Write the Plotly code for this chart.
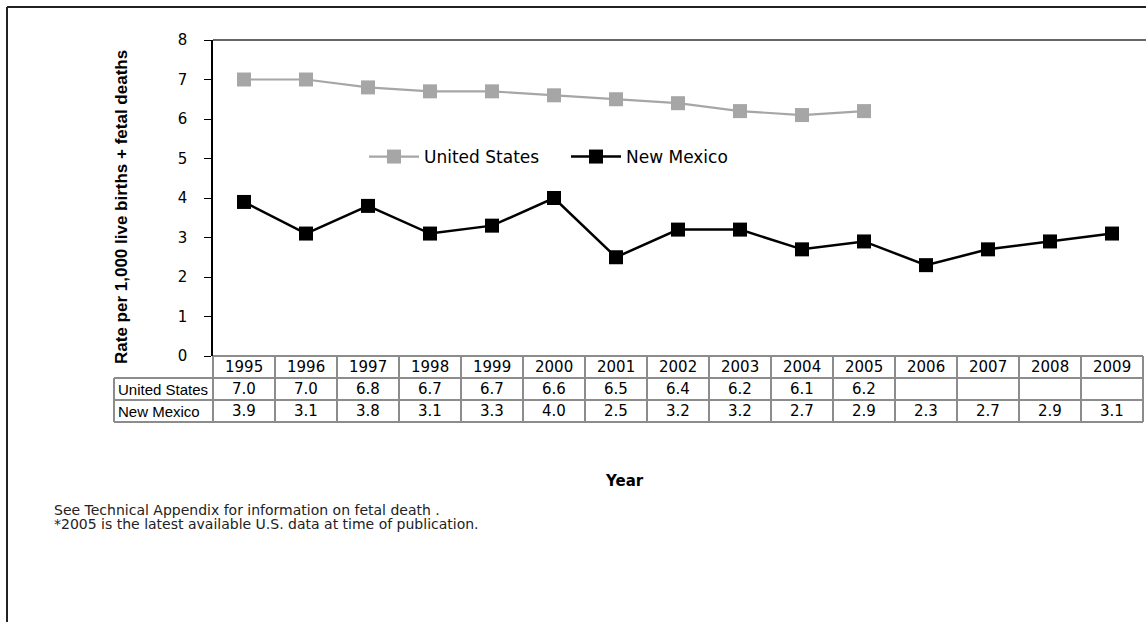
import plotly.graph_objects as go

years = [1995, 1996, 1997, 1998, 1999, 2000, 2001, 2002, 2003, 2004, 2005, 2006, 2007, 2008, 2009]
us_years = [1995, 1996, 1997, 1998, 1999, 2000, 2001, 2002, 2003, 2004, 2005]
us_values = [7.0, 7.0, 6.8, 6.7, 6.7, 6.6, 6.5, 6.4, 6.2, 6.1, 6.2]
nm_values = [3.9, 3.1, 3.8, 3.1, 3.3, 4.0, 2.5, 3.2, 3.2, 2.7, 2.9, 2.3, 2.7, 2.9, 3.1]
y_ticks = [0, 1, 2, 3, 4, 5, 6, 7, 8]

W, H = 1146, 622
L, R, T, B = 213, 3, 40, 266
PW = W - L - R
PH = H - T - B


def px_x(px):
    return (px - L) / PW


def px_y(py):
    return (H - B - py) / PH


fig = go.Figure()
fig.add_trace(go.Scatter(
    x=us_years, y=us_values, name="United States", mode="lines+markers",
    line=dict(color="#a6a6a6", width=2.2),
    marker=dict(symbol="square", size=14, color="#a6a6a6"),
    cliponaxis=False,
))
fig.add_trace(go.Scatter(
    x=years, y=nm_values, name="New Mexico", mode="lines+markers",
    line=dict(color="#000000", width=2.5),
    marker=dict(symbol="square", size=14, color="#000000"),
    cliponaxis=False,
))

shapes = []
grid_col = "#8c8c8c"
y_rows = [px_y(356), px_y(378), px_y(400), px_y(422)]
x_left_lbl = px_x(114)
shapes.append(dict(type="line", xref="paper", yref="paper", x0=0, x1=1,
                   y0=y_rows[0], y1=y_rows[0], line=dict(color=grid_col, width=2)))
for yy in y_rows[1:]:
    shapes.append(dict(type="line", xref="paper", yref="paper", x0=x_left_lbl, x1=1,
                       y0=yy, y1=yy, line=dict(color=grid_col, width=2)))
for i in range(len(years) + 1):
    xv = i / len(years)
    shapes.append(dict(type="line", xref="paper", yref="paper", x0=xv, x1=xv,
                       y0=y_rows[0], y1=y_rows[3], line=dict(color=grid_col, width=2)))
shapes.append(dict(type="line", xref="paper", yref="paper", x0=x_left_lbl, x1=x_left_lbl,
                   y0=y_rows[1], y1=y_rows[3], line=dict(color=grid_col, width=2)))
shapes.append(dict(type="line", xref="paper", yref="paper", x0=0, x1=1.01,
                   y0=1, y1=1, line=dict(color="#333333", width=1.5)))
shapes.append(dict(type="line", xref="paper", yref="paper", x0=px_x(7), x1=1.01,
                   y0=px_y(7), y1=px_y(7), line=dict(color="#222222", width=2)))
shapes.append(dict(type="line", xref="paper", yref="paper", x0=px_x(7), x1=px_x(7),
                   y0=px_y(7), y1=px_y(640), line=dict(color="#222222", width=2)))

annotations = []
cell_font = dict(family="DejaVu Sans", size=15, color="#000000")
for yr in years:
    annotations.append(dict(x=yr, y=px_y(367), xref="x", yref="paper", text=str(yr),
                            showarrow=False, font=cell_font, xanchor="center", yanchor="middle"))
for yr, v in zip(us_years, us_values):
    annotations.append(dict(x=yr, y=px_y(389), xref="x", yref="paper", text=f"{v:.1f}",
                            showarrow=False, font=cell_font, xanchor="center", yanchor="middle"))
for yr, v in zip(years, nm_values):
    annotations.append(dict(x=yr, y=px_y(411), xref="x", yref="paper", text=f"{v:.1f}",
                            showarrow=False, font=cell_font, xanchor="center", yanchor="middle"))
lbl_font = dict(family="Liberation Sans", size=15, color="#000000")
annotations.append(dict(x=px_x(116), y=px_y(389), xref="paper", yref="paper", text="United States",
                        showarrow=False, font=lbl_font, xanchor="left", yanchor="middle"))
annotations.append(dict(x=px_x(116), y=px_y(411), xref="paper", yref="paper", text="New Mexico",
                        showarrow=False, font=lbl_font, xanchor="left", yanchor="middle"))
annotations.append(dict(x=px_x(122), y=px_y(207), xref="paper", yref="paper",
                        text="<b>Rate per 1,000 live births + fetal deaths</b>", textangle=-90,
                        showarrow=False, font=dict(family="Liberation Sans", size=17, color="#000000"),
                        xanchor="center", yanchor="middle"))
annotations.append(dict(x=px_x(624), y=px_y(481), xref="paper", yref="paper", text="<b>Year</b>",
                        showarrow=False, font=dict(family="DejaVu Sans", size=15, color="#000000"),
                        xanchor="center", yanchor="middle"))
annotations.append(dict(x=px_x(52), y=px_y(510), xref="paper", yref="paper",
                        text="See Technical Appendix for information on fetal death .",
                        showarrow=False, font=dict(family="DejaVu Sans", size=14, color="#222222"),
                        xanchor="left", yanchor="middle"))
annotations.append(dict(x=px_x(52), y=px_y(524), xref="paper", yref="paper",
                        text="*2005 is the latest available U.S. data at time of publication.",
                        showarrow=False, font=dict(family="DejaVu Sans", size=14, color="#222222"),
                        xanchor="left", yanchor="middle"))

fig.update_layout(
    width=W, height=H,
    margin=dict(l=L, r=R, t=T, b=B, autoexpand=False),
    paper_bgcolor="white", plot_bgcolor="white",
    showlegend=True,
    legend=dict(orientation="h", x=px_x(364), y=px_y(157), xanchor="left", yanchor="middle",
                font=dict(family="DejaVu Sans", size=17, color="#000000"),
                bgcolor="rgba(0,0,0,0)", itemwidth=50, tracegroupgap=0,
                entrywidth=137, entrywidthmode="pixels"),
    xaxis=dict(range=[years[0] - 0.5, years[-1] + 0.5], showticklabels=False, showgrid=False,
               zeroline=False, showline=False, ticks=""),
    yaxis=dict(range=[0, 8], tickvals=y_ticks, showgrid=False, zeroline=False,
               showline=True, linecolor="#000000", linewidth=1.5,
               ticks="outside", ticklen=7, tickcolor="#000000", ticklabelstandoff=14,
               tickfont=dict(family="DejaVu Sans", size=15, color="#000000")),
    shapes=shapes, annotations=annotations,
)

fig.write_html("out.html", config={"displayModeBar": False},
               post_script="document.body.style.margin='0';document.body.style.padding='0';")
